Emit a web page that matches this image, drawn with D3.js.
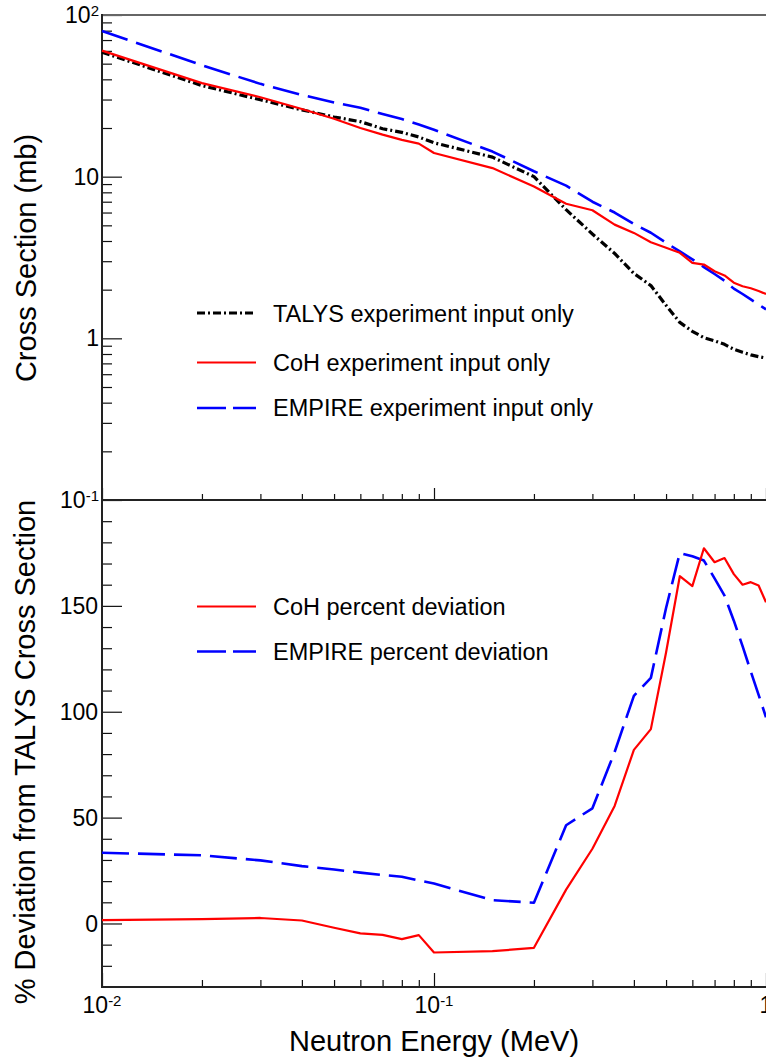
<!DOCTYPE html>
<html>
<head>
<meta charset="utf-8">
<script src="https://cdn.jsdelivr.net/npm/d3@7"></script>
<style>
  html, body { margin: 0; padding: 0; background: #fff; }
  svg { display: block; font-family: "Liberation Sans", Arial, Helvetica, sans-serif; }
</style>
</head>
<body>
<script>
// Neutron energies (MeV) shared by all curves
const energy = [0.01, 0.02, 0.03, 0.04, 0.05, 0.06, 0.07, 0.08, 0.09, 0.1,
                0.15, 0.2, 0.25, 0.3, 0.35, 0.4, 0.45, 0.5, 0.55, 0.6,
                0.65, 0.7, 0.75, 0.8, 0.85, 0.9, 0.95, 1.0];

// Cross sections (mb)
const talysXS  = [58.9, 36.6, 29.9, 25.9, 23.4, 21.9, 19.8, 18.8, 17.6, 16.2,
                  13.2, 10.0, 6.25, 4.42, 3.35, 2.52, 2.12, 1.60, 1.255, 1.105,
                  1.01, 0.965, 0.918, 0.855, 0.82, 0.79, 0.77, 0.755];
const cohXS    = [60.2, 37.9, 31.0, 26.2, 22.8, 20.0, 18.2, 16.9, 16.0, 14.0,
                  11.3, 8.7, 6.8, 6.2, 5.05, 4.49, 3.93, 3.63, 3.38, 2.93,
                  2.86, 2.60, 2.45, 2.21, 2.10, 2.04, 1.96, 1.88];
const empireXS = [79.6, 48.9, 37.5, 32.0, 28.8, 26.7, 24.4, 22.7, 21.0, 19.5,
                  14.3, 10.8, 8.8, 7.0, 6.0, 5.1, 4.5, 3.9, 3.45, 3.08,
                  2.76, 2.5, 2.27, 2.03, 1.88, 1.74, 1.62, 1.51];

// Percent deviation from TALYS
const cohDev    = [1.6, 2.1, 2.6, 1.4, -2.0, -4.7, -5.4, -7.4, -5.5, -13.7,
                   -13.1, -11.5, 16, 35.3, 55.5, 82, 91.8, 128, 164, 159.3,
                   177.2, 170.6, 172.6, 165, 160, 161.2, 159.6, 151.7];
const empireDev = [33.4, 32.2, 29.8, 27.1, 25.5, 24, 22.9, 22.1, 20.3, 18.9,
                   11, 9.8, 46.4, 54.4, 81, 107.5, 116, 149, 175, 173.4,
                   171.4, 163, 154.8, 143, 131, 119, 108, 97.4];

// Tick labels
const xTickLabels    = ["10^-2", "10^-1", "1"];
const topTickLabels  = ["10^-1", "1", "10", "10^2"];
const botTickLabels  = ["0", "50", "100", "150"];

const legendTop = ["TALYS experiment input only", "CoH experiment input only", "EMPIRE experiment input only"];
const legendBot = ["CoH percent deviation", "EMPIRE percent deviation"];

const W = 766, H = 1061;
const svg = d3.select("body").append("svg").attr("width", W).attr("height", H);

const x    = d3.scaleLog().domain([0.01, 1]).range([102, 766]);
const yTop = d3.scaleLog().domain([0.1, 100]).range([500, 15]);
const yBot = d3.scaleLinear().domain([-30, 200]).range([987, 500]);

const styles = {
  talys:  { color: "#000000", width: 3.2, dash: "8,3,2,3" },
  coh:    { color: "#ff0000", width: 2.2, dash: null },
  empire: { color: "#0000ff", width: 2.6, dash: "27,9" }
};

// ---------- ticks ----------
function tickGroup(axis, tx, ty) {
  const g = svg.append("g").attr("transform", `translate(${tx},${ty})`).attr("color", "#111").call(axis);
  g.select(".domain").remove();
  g.selectAll(".tick line").attr("stroke-width", 1.2);
  return g;
}

const decadesX = [0.01, 0.1, 1];
const xMinor = [];
[0.01, 0.1].forEach(d => { for (let k = 2; k <= 9; k++) xMinor.push(k * d); });

// top panel bottom edge ticks
tickGroup(d3.axisBottom(x).tickValues(xMinor).tickSize(-6).tickFormat(""), 0, 500);
tickGroup(d3.axisBottom(x).tickValues(decadesX).tickSize(-12).tickFormat(""), 0, 500);
// bottom panel x ticks
tickGroup(d3.axisBottom(x).tickValues(xMinor).tickSize(-7).tickFormat(""), 0, 987);
tickGroup(d3.axisBottom(x).tickValues(decadesX).tickSize(-14).tickFormat(""), 0, 987);

// top panel y ticks
const topMajor = [0.1, 1, 10, 100];
const topMinor = [];
[0.1, 1, 10].forEach(d => { for (let k = 2; k <= 9; k++) topMinor.push(k * d); });
tickGroup(d3.axisLeft(yTop).tickValues(topMinor).tickSize(-10).tickFormat(""), 102, 0);
tickGroup(d3.axisLeft(yTop).tickValues(topMajor).tickSize(-20).tickFormat(""), 102, 0);

// bottom panel y ticks
const botMajor = [0, 50, 100, 150];
const botMinor = d3.range(-20, 200, 10).filter(v => v % 50 !== 0);
tickGroup(d3.axisLeft(yBot).tickValues(botMinor).tickSize(-10).tickFormat(""), 102, 0);
tickGroup(d3.axisLeft(yBot).tickValues(botMajor).tickSize(-20).tickFormat(""), 102, 0);

// ---------- frame ----------
svg.append("line").attr("x1", 102).attr("x2", W).attr("y1", 15).attr("y2", 15)
  .attr("stroke", "#666").attr("stroke-width", 1.8);
[[500], [987]].forEach(([yy]) => {
  svg.append("line").attr("x1", 102).attr("x2", W).attr("y1", yy).attr("y2", yy)
    .attr("stroke", "#222").attr("stroke-width", 2);
});
svg.append("line").attr("x1", 102).attr("x2", 102).attr("y1", 14).attr("y2", 988)
  .attr("stroke", "#222").attr("stroke-width", 2);

// ---------- tick labels ----------
const FS = 23, SUP = 15, LFS = 23.5;
function writeLabel(t, str) {
  const [base, exp] = str.split("^");
  t.append("tspan").text(base);
  if (exp) t.append("tspan").attr("dy", -7).attr("font-size", SUP).text(exp);
}
topTickLabels.forEach((s, i) => {
  const t = svg.append("text").attr("x", 99).attr("y", yTop(topMajor[i]) + 8)
    .attr("text-anchor", "end").attr("font-size", FS).attr("fill", "#000");
  writeLabel(t, s);
});
botTickLabels.forEach((s, i) => {
  const t = svg.append("text").attr("x", 98).attr("y", yBot(botMajor[i]) + 8.5)
    .attr("text-anchor", "end").attr("font-size", FS).attr("fill", "#000");
  writeLabel(t, s);
});
xTickLabels.forEach((s, i) => {
  const t = svg.append("text").attr("x", x(decadesX[i])).attr("y", 1013)
    .attr("text-anchor", "middle").attr("font-size", FS).attr("fill", "#000");
  writeLabel(t, s);
});

// ---------- axis titles ----------
svg.append("text").attr("transform", "translate(36,258) rotate(-90)")
  .attr("text-anchor", "middle").attr("font-size", 29).attr("fill", "#000")
  .text("Cross Section (mb)");
svg.append("text").attr("transform", "translate(35,752) rotate(-90)")
  .attr("text-anchor", "middle").attr("font-size", 29).attr("fill", "#000")
  .text("% Deviation from TALYS Cross Section");
svg.append("text").attr("x", 434).attr("y", 1051)
  .attr("text-anchor", "middle").attr("font-size", 29).attr("fill", "#000")
  .text("Neutron Energy (MeV)");

// ---------- curves ----------
const plot = svg.append("g");
function curve(yScale, values, st) {
  const line = d3.line().x((d, i) => x(energy[i])).y(d => yScale(d));
  const p = plot.append("path").datum(values)
    .attr("d", line).attr("fill", "none")
    .attr("stroke", st.color).attr("stroke-width", st.width)
    .attr("stroke-linejoin", "round");
  if (st.dash) p.attr("stroke-dasharray", st.dash);
}
curve(yTop, empireXS, styles.empire);
curve(yTop, talysXS, styles.talys);
curve(yTop, cohXS, styles.coh);
curve(yBot, empireDev, styles.empire);
curve(yBot, cohDev, styles.coh);

// ---------- legends ----------
function legendRow(yy, label, st, textBase) {
  const l = svg.append("line").attr("x1", 197).attr("x2", 256).attr("y1", yy).attr("y2", yy)
    .attr("stroke", st.color).attr("stroke-width", st.width);
  if (st.dash) l.attr("stroke-dasharray", st.dash === "27,9" ? "29,7" : st.dash);
  svg.append("text").attr("x", 273).attr("y", textBase).attr("font-size", LFS).attr("fill", "#000").text(label);
}
legendRow(313, legendTop[0], styles.talys, 321.5);
legendRow(362.5, legendTop[1], styles.coh, 370.5);
legendRow(408, legendTop[2], styles.empire, 416);
legendRow(606.5, legendBot[0], styles.coh, 614.5);
legendRow(651.5, legendBot[1], styles.empire, 659.5);
</script>
</body>
</html>
